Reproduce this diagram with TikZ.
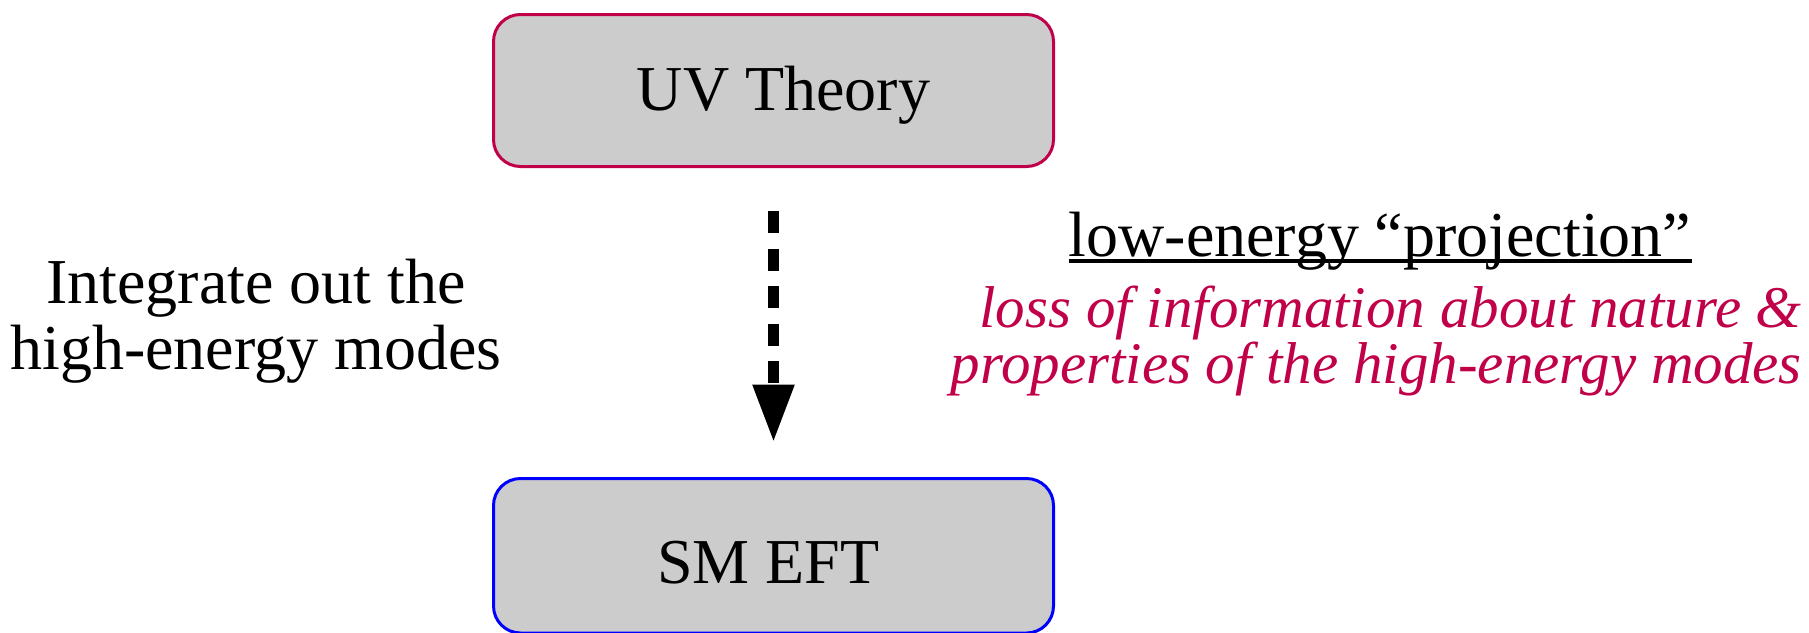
\documentclass[tikz,border=0pt]{standalone}
\usepackage{fontspec}
\setmainfont{Liberation Serif}
\usetikzlibrary{arrows.meta}
\definecolor{crimson}{RGB}{192,0,72}
\definecolor{boxgray}{RGB}{204,204,204}
\begin{document}
\begin{tikzpicture}[x=1pt,y=-1pt,
  theorybox/.style={rectangle, rounded corners=27pt, fill=boxgray, line width=3pt,
    minimum width=560pt, minimum height=152pt, inner sep=0pt, outer sep=0pt,
    font=\fontsize{64}{66}\selectfont},
  bigtext/.style={font=\fontsize{64}{66}\selectfont, inner sep=0pt},
  itext/.style={font=\fontsize{59}{56}\selectfont\itshape, text=crimson, inner sep=0pt},
  flow/.style={line width=11.6pt, dash pattern=on 22pt off 15.5pt,
    -{Triangle[length=58pt,width=39pt]}}]
\useasboundingbox (0,0) rectangle (1809,632);
\node[theorybox, draw=crimson, text height=52pt, text depth=13pt] (uv) at (773.5,90.5) {\hspace*{20pt}UV Theory};
\node[theorybox, draw=blue, minimum height=154.5pt, text height=60pt, text depth=5.5pt] (eft) at (773.5,555.75) {SM EFT\hspace*{10pt}};
\draw[flow, shorten <=44.5pt, shorten >=36pt] (uv.south) -- (eft.north);
\node[bigtext, align=center, anchor=base] (integ) at (256,369) {Integrate out the\\high-energy modes};
\node[bigtext, anchor=base] (proj) at (1380,256.5) {low-energy “projection”};
\draw[line width=3.2pt] ([yshift=-4.5pt]proj.base west) -- ([yshift=-4.5pt]proj.base east);
\node[itext, align=right, anchor=base east] (loss) at (1802,383) {loss of information about nature \&\\properties of the high-energy modes};
\end{tikzpicture}
\end{document}
